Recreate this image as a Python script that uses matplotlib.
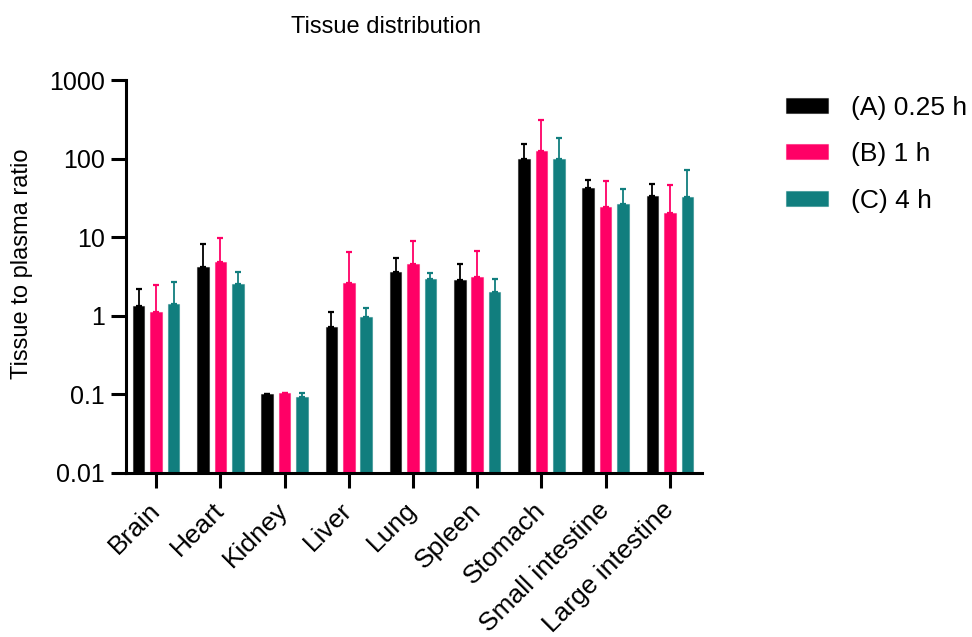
import numpy as np
import matplotlib
matplotlib.use("Agg")
import matplotlib.pyplot as plt
from matplotlib.colors import to_rgba

plt.rcParams['font.family'] = ['Liberation Sans', 'DejaVu Sans']

tissues = ["Brain", "Heart", "Kidney", "Liver", "Lung", "Spleen",
           "Stomach", "Small intestine", "Large intestine"]
groups = ["(A) 0.25 h", "(B) 1 h", "(C) 4 h"]
colors = ["#000000", "#FF0066", "#117E7E"]

# mean tissue/plasma ratio
mean_a = [1.34, 4.16, 0.10, 0.71, 3.59, 2.87, 99.7, 42.0, 33.5]
mean_b = [1.13, 4.86, 0.103, 2.63, 4.58, 3.16, 126.0, 24.0, 20.2]
mean_c = [1.43, 2.53, 0.092, 0.96, 2.95, 1.98, 98.9, 26.7, 32.2]
# top of error bar (mean + SD)
top_a = [2.20, 8.20, 0.10, 1.11, 5.41, 4.54, 155.0, 53.5, 48.0]
top_b = [2.48, 9.90, 0.105, 6.45, 8.90, 6.76, 312.0, 52.0, 45.8]
top_c = [2.70, 3.65, 0.103, 1.24, 3.52, 2.95, 183.0, 41.0, 71.6]

means = [mean_a, mean_b, mean_c]
tops = [top_a, top_b, top_c]

fig = plt.figure(figsize=(9.72, 6.37), dpi=100)
ax = fig.add_axes([0.1296, 0.2575, 0.5926, 0.6169])

x = np.arange(len(tissues))
width = 0.18
offset = 0.272

for i, (m, t, c, g) in enumerate(zip(means, tops, colors, groups)):
    m = np.array(m)
    t = np.array(t)
    pos = x + (i - 1) * offset
    ax.bar(pos, m, width=width, color=c, edgecolor=to_rgba(c, 0.45),
           linewidth=0.8, label=g, zorder=2)
    ax.errorbar(pos, m, yerr=[np.zeros_like(m), t - m], fmt="none",
                ecolor=c, elinewidth=1.3, capsize=2.3, capthick=1.6, zorder=1)

ax.set_yscale("log")
ax.set_ylim(0.01, 1000)
ax.set_xlim(-0.47, 8.5)
ax.set_yticks([0.01, 0.1, 1, 10, 100, 1000])
ax.set_yticklabels(["0.01", "0.1", "1", "10", "100", "1000"])
ax.yaxis.set_minor_locator(matplotlib.ticker.NullLocator())
ax.set_xticks(x)
ax.set_xticklabels(tissues, rotation=45, ha="right", va="center",
                   rotation_mode="anchor")

for side in ["top", "right"]:
    ax.spines[side].set_visible(False)
for side in ["left", "bottom"]:
    ax.spines[side].set_linewidth(2.2)
ax.tick_params(axis="both", width=2.2, length=11)
ax.tick_params(axis="y", labelsize=18, pad=4)
ax.tick_params(axis="x", labelsize=19, pad=13)

ax.set_ylabel("Tissue to plasma ratio", fontsize=17)
ax.yaxis.set_label_coords(-0.162, 0.532)
fig.text(386 / 972, 1 - 27 / 637, "Tissue distribution", fontsize=17,
         ha="center", va="center")

ax.legend(loc="upper left", bbox_to_anchor=(1.105, 1.02), frameon=False,
          fontsize=19, handlelength=1.6, handleheight=0.5,
          labelspacing=0.85, handletextpad=0.85)

fig.savefig("out.png", dpi=100)
